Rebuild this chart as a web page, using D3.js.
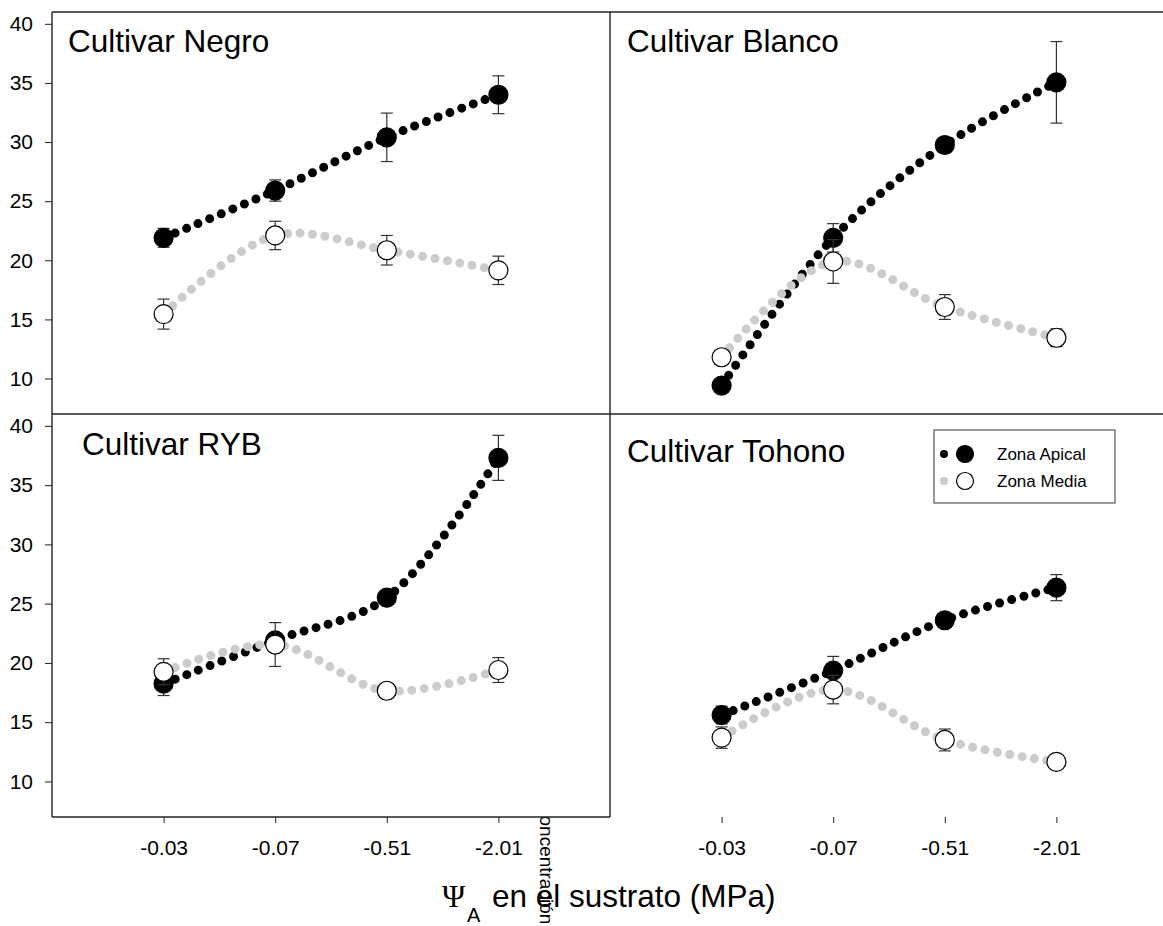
<!DOCTYPE html>
<html>
<head>
<meta charset="utf-8">
<script src="https://cdn.jsdelivr.net/npm/d3@7"></script>
<style>
  body { margin: 0; background: #fff; }
  svg { font-family: "Liberation Sans", Arial, sans-serif; }
  .axis text { fill: #000; }
  .axis line { stroke: #222; }
</style>
</head>
<body>
<div id="chart"></div>
<script>
// categories on the x axis (Psi_A in MPa)
var xLabels = ["-0.03", "-0.07", "-0.51", "-2.01"];
var cultivars = ["Cultivar Negro", "Cultivar Blanco", "Cultivar RYB", "Cultivar Tohono"];
var yTicks = [10, 15, 20, 25, 30, 35, 40];
var seriesNames = ["Zona Apical", "Zona Media"];

// means and error bars, one row per cultivar
var apicalMean = [
    [21.9, 25.9, 30.4, 34.0],
    [9.4, 21.9, 29.75, 35.05],
    [18.25, 21.9, 25.5, 37.3],
    [15.6, 19.35, 23.6, 26.35]
];
var apicalErr = [
    [0.8, 0.9, 2.05, 1.6],
    [0, 1.2, 0.6, 3.45],
    [1.0, 0.6, 0, 1.9],
    [0.75, 1.2, 0, 1.1]
];
var mediaMean = [
    [15.45, 22.1, 20.85, 19.15],
    [11.8, 19.9, 16.05, 13.45],
    [19.25, 21.55, 17.65, 19.4],
    [13.7, 17.75, 13.5, 11.65]
];
var mediaErr = [
    [1.27, 1.2, 1.25, 1.2],
    [0, 1.85, 1.05, 0.75],
    [1.1, 1.85, 0, 1.05],
    [0.9, 1.2, 0.92, 0]
];

var width = 1163, height = 926;

var svg = d3.select("#chart")
    .append("svg")
        .attr("width", width)
        .attr("height", height);

// stray rotated label that sits behind the lower-left panel
svg.append("text")
    .attr("transform", "translate(540,806) rotate(90)")
    .attr("font-size", 19)
    .text("concentración");

// panel layout: columns and rows in pixels
var cols = [[52, 610], [610, 1168]];
var rows = [[12, 414], [414, 817]];
var titleOffset = [[16, 40], [17, 40], [30, 41], [17, 48]];

var panels = cultivars.map(function(name, i) {
    return {
        name: name,
        col: i % 2,
        row: Math.floor(i / 2),
        series: [
            { key: seriesNames[0], mean: apicalMean[i], err: apicalErr[i], dot: "#000", fill: "#000" },
            { key: seriesNames[1], mean: mediaMean[i], err: mediaErr[i], dot: "#cccccc", fill: "#fff" }
        ],
        title: titleOffset[i]
    };
});

// white panel backgrounds
panels.forEach(function(p) {
    svg.append("rect")
        .attr("x", cols[p.col][0])
        .attr("y", rows[p.row][0])
        .attr("width", cols[p.col][1] - cols[p.col][0])
        .attr("height", rows[p.row][1] - rows[p.row][0])
        .attr("fill", "#fff");
});

panels.forEach(function(p) {
    var x = d3.scaleLinear().domain([0, 5]).range(cols[p.col]);
    var y = d3.scaleLinear().domain([7, 41]).range([rows[p.row][1], rows[p.row][0]]);

    var g = svg.append("g");

    // y axis on the left column only
    if (p.col === 0) {
        var ya = g.append("g")
            .attr("class", "axis")
            .attr("transform", "translate(" + cols[0][0] + ",0)")
            .call(d3.axisLeft(y).tickValues(yTicks).tickSize(7).tickPadding(12));
        ya.select(".domain").remove();
        ya.selectAll("text").attr("font-size", 21).attr("font-family", "Liberation Sans, Arial, sans-serif");
    }

    // x axis on the bottom row only
    if (p.row === 1) {
        var xa = g.append("g")
            .attr("class", "axis")
            .attr("transform", "translate(0," + rows[1][1] + ")")
            .call(d3.axisBottom(x)
                .tickValues([1, 2, 3, 4])
                .tickFormat(function(d) { return xLabels[d - 1]; })
                .tickSize(6)
                .tickPadding(17));
        xa.select(".domain").remove();
        xa.selectAll("text").attr("font-size", 21).attr("font-family", "Liberation Sans, Arial, sans-serif");
    }

    g.append("text")
        .attr("x", cols[p.col][0] + p.title[0])
        .attr("y", rows[p.row][0] + p.title[1])
        .attr("font-size", 31.5)
        .text(p.name);

    var line = d3.line()
        .x(function(d, i) { return x(i + 1); })
        .y(function(d) { return y(d); })
        .curve(d3.curveCatmullRom.alpha(0.5));

    p.series.forEach(function(s) {
        // error bars
        s.mean.forEach(function(m, i) {
            if (!s.err[i]) return;
            var cx = x(i + 1);
            var eb = g.append("g").attr("stroke", "#333").attr("stroke-width", 1.2);
            eb.append("line").attr("x1", cx).attr("x2", cx)
                .attr("y1", y(m - s.err[i])).attr("y2", y(m + s.err[i]));
            eb.append("line").attr("x1", cx - 6).attr("x2", cx + 6)
                .attr("y1", y(m - s.err[i])).attr("y2", y(m - s.err[i]));
            eb.append("line").attr("x1", cx - 6).attr("x2", cx + 6)
                .attr("y1", y(m + s.err[i])).attr("y2", y(m + s.err[i]));
        });

        // dotted spline
        g.append("path")
            .attr("d", line(s.mean))
            .attr("fill", "none")
            .attr("stroke", s.dot)
            .attr("stroke-width", 9)
            .attr("stroke-linecap", "round")
            .attr("stroke-dasharray", "0,12.5");

        // markers
        g.selectAll(null)
            .data(s.mean)
            .enter().append("circle")
            .attr("cx", function(d, i) { return x(i + 1); })
            .attr("cy", function(d) { return y(d); })
            .attr("r", 9.5)
            .attr("fill", s.fill)
            .attr("stroke", "#000")
            .attr("stroke-width", 1.2);
    });
});

// panel frame lines
var frame = svg.append("g").attr("stroke", "#222").attr("stroke-width", 1.4);
frame.append("line").attr("x1", 52).attr("x2", width).attr("y1", 12).attr("y2", 12);
frame.append("line").attr("x1", 52).attr("x2", width).attr("y1", 414).attr("y2", 414);
frame.append("line").attr("x1", 52).attr("x2", 52).attr("y1", 12).attr("y2", 817);
frame.append("line").attr("x1", 610).attr("x2", 610).attr("y1", 12).attr("y2", 817);
frame.append("line").attr("x1", 52).attr("x2", 610).attr("y1", 817).attr("y2", 817);

// legend in the lower-right panel
var legend = svg.append("g");
legend.append("rect")
    .attr("x", 934).attr("y", 430)
    .attr("width", 181).attr("height", 73)
    .attr("fill", "#fff")
    .attr("stroke", "#555")
    .attr("stroke-width", 1.2);
panels[3].series.forEach(function(s, i) {
    var ly = 454 + i * 27;
    legend.append("line")
        .attr("x1", 944).attr("x2", 986)
        .attr("y1", ly).attr("y2", ly)
        .attr("stroke", s.dot)
        .attr("stroke-width", 8)
        .attr("stroke-linecap", "round")
        .attr("stroke-dasharray", "0,21");
    legend.append("circle")
        .attr("cx", 965).attr("cy", ly).attr("r", 8.5)
        .attr("fill", s.fill)
        .attr("stroke", "#000")
        .attr("stroke-width", 1.2);
    legend.append("text")
        .attr("x", 997).attr("y", ly + 6)
        .attr("font-size", 17)
        .text(s.key);
});

// x axis title
var xt = svg.append("text").attr("y", 907).attr("font-size", 31.5);
xt.append("tspan")
    .attr("x", 442)
    .attr("font-family", "Liberation Serif, Times New Roman, serif")
    .text("\u03A8");
xt.append("tspan")
    .attr("x", 467).attr("y", 922)
    .attr("font-size", 20)
    .text("A");
xt.append("tspan")
    .attr("x", 492).attr("y", 907)
    .text("en el sustrato (MPa)");
</script>
</body>
</html>
